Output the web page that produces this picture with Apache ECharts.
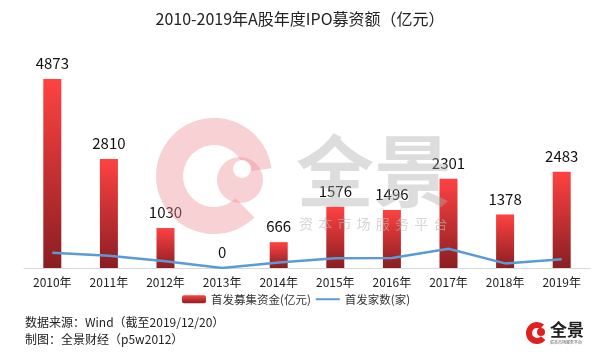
<!DOCTYPE html>
<html><head><meta charset="utf-8">
<script src="https://cdn.jsdelivr.net/npm/echarts@6/dist/echarts.min.js"></script>
<style>html,body{margin:0;padding:0;background:#fff}#c{width:600px;height:357px}</style>
</head><body><div id="c"></div>
<script>
const categories = ['2010年','2011年','2012年','2013年','2014年','2015年','2016年','2017年','2018年','2019年'];
const fundsRaised = [4873, 2810, 1030, 0, 666, 1576, 1496, 2301, 1378, 2483];
const ipoCount = [349, 282, 155, 0, 125, 223, 227, 438, 105, 201];
const titleText = '2010-2019年A股年度IPO募资额（亿元）';
const seriesNames = ['首发募集资金(亿元)', '首发家数(家)'];
const sourceLines = ['数据来源：Wind（截至2019/12/20）', '制图：全景财经（p5w2012）'];
const watermarkChars = ['资','本','市','场','服','务','平','台'];

const FONT = 'Noto Sans CJK SC';
const chart = echarts.init(document.getElementById('c'), null, {renderer: 'canvas'});
const barGrad = new echarts.graphic.LinearGradient(0, 0, 0, 1, [
  {offset: 0, color: '#FF4242'},
  {offset: 1, color: '#8A1E22'}
]);
const PINK = 'rgba(238,140,150,0.4)';
const graphics = [
  {type: 'sector', z: 100, shape: {cx: 214, cy: 176, r: 58, r0: 31, startAngle: 0.8, endAngle: 6.15, clockwise: true},
    style: {fill: PINK}},
  {type: 'circle', z: 100, shape: {cx: 240, cy: 180, r: 23}, style: {fill: PINK}},
  {type: 'circle', z: 101, shape: {cx: 242, cy: 169, r: 9}, style: {fill: '#fff'}},
  {type: 'text', z: 100, left: 296, top: 132, style: {text: '全景', font: 'bold 78px "Noto Sans CJK SC"', fill: 'rgba(175,175,175,0.42)'}},
  {type: 'text', left: 25, top: 316, style: {text: sourceLines[0], font: '12px "Noto Sans CJK SC"', fill: '#222'}},
  {type: 'text', left: 25, top: 333, style: {text: sourceLines[1], font: '12px "Noto Sans CJK SC"', fill: '#222'}},
  {type: 'sector', shape: {cx: 537, cy: 333, r: 11, r0: 5, startAngle: 0.7, endAngle: 5.4, clockwise: true}, style: {fill: '#E02020'}},
  {type: 'circle', shape: {cx: 541, cy: 332, r: 4}, style: {fill: '#E02020'}},
  {type: 'text', left: 550, top: 321, style: {text: '全景', font: 'bold 17px "Noto Sans CJK SC"', fill: '#222'}},
  {type: 'text', left: 550, top: 340, style: {text: '资本市场服务平台', font: '4px "Noto Sans CJK SC"', fill: '#555'}}
];
watermarkChars.forEach((ch, i) => {
  graphics.push({type: 'text', z: 100, left: 299 + i * 19.2, top: 217,
    style: {text: ch, font: '14px "Noto Sans CJK SC"', fill: 'rgba(185,185,185,0.6)'}});
});
chart.setOption({
  animation: false,
  backgroundColor: '#fff',
  title: {
    text: titleText, left: 'center', top: 6,
    textStyle: {fontFamily: FONT, fontSize: 16, fontWeight: 'normal', color: '#222'}
  },
  legend: {
    data: [
      {name: seriesNames[0]},
      {name: seriesNames[1], itemStyle: {opacity: 0}}
    ],
    bottom: 47, left: 177, itemGap: 4,
    itemWidth: 24, itemHeight: 8,
    textStyle: {fontFamily: FONT, fontSize: 11.5, color: '#333'}
  },
  grid: {left: 24, right: 10, top: 74, bottom: 89, containLabel: false},
  xAxis: {
    type: 'category', data: categories,
    axisLine: {lineStyle: {color: '#d9d9d9', width: 1}},
    axisTick: {show: false},
    axisLabel: {fontFamily: FONT, fontSize: 12, color: '#222', margin: 8}
  },
  yAxis: [
    {type: 'value', min: 0, max: 5000, show: false, splitLine: {show: false}},
    {type: 'value', min: 0, max: 4430, show: false, splitLine: {show: false}}
  ],
  series: [
    {
      name: seriesNames[0], type: 'bar', data: fundsRaised, barWidth: 18,
      itemStyle: {color: barGrad},
      label: {show: true, position: 'top', distance: 8, fontFamily: FONT, fontSize: 15, color: '#111'}
    },
    {
      name: seriesNames[1], type: 'line', yAxisIndex: 1, data: ipoCount,
      symbol: 'none', lineStyle: {color: '#5B9BD5', width: 2.5}, itemStyle: {color: '#5B9BD5'}
    }
  ],
  graphic: graphics
});
</script></body></html>
